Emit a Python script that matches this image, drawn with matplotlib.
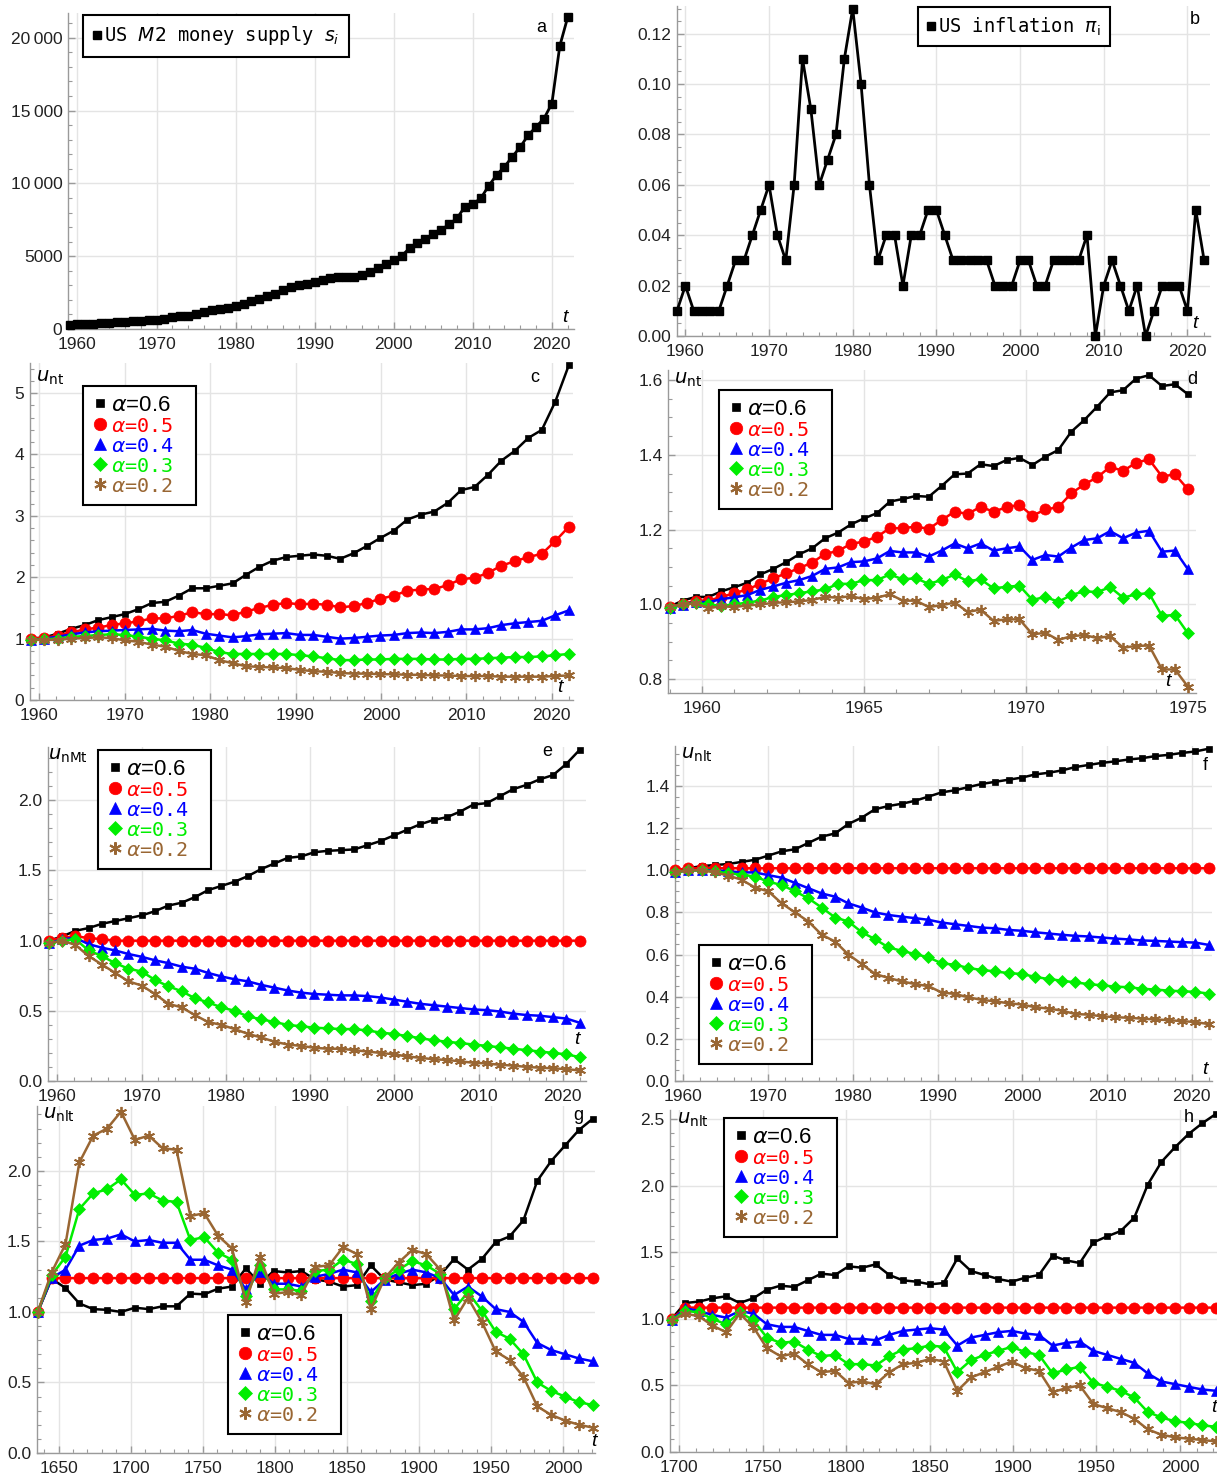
import numpy as np
import matplotlib
matplotlib.use("Agg")
import matplotlib.pyplot as plt
from matplotlib.ticker import MultipleLocator, FuncFormatter
from matplotlib.lines import Line2D

plt.rcParams['font.family'] = ['Liberation Sans', 'DejaVu Sans']
plt.rcParams['mathtext.fontset'] = 'dejavusans'

# ---------------- data ----------------
years_ab = np.arange(1959, 2023)
m2_supply = [300, 310, 330, 360, 390, 420, 460, 480, 520, 560,
             590, 640, 710, 800, 860, 910, 1020, 1150, 1280, 1370,
             1470, 1600, 1730, 1900, 2080, 2240, 2420, 2690, 2880, 2990,
             3100, 3200, 3380, 3490, 3540, 3580, 3600, 3720, 3880, 4180,
             4470, 4750, 5020, 5550, 5890, 6160, 6500, 6800, 7190, 7600,
             8400, 8580, 8970, 9820, 10570, 11140, 11830, 12500, 13300, 13880,
             14450, 15480, 19430, 21400]
inflation = [0.01, 0.02, 0.01, 0.01, 0.01, 0.01, 0.02, 0.03, 0.03, 0.04,
             0.05, 0.06, 0.04, 0.03, 0.06, 0.11, 0.09, 0.06, 0.07, 0.08,
             0.11, 0.13, 0.10, 0.06, 0.03, 0.04, 0.04, 0.02, 0.04, 0.04,
             0.05, 0.05, 0.04, 0.03, 0.03, 0.03, 0.03, 0.03, 0.02, 0.02,
             0.02, 0.03, 0.03, 0.02, 0.02, 0.03, 0.03, 0.03, 0.03, 0.04,
             0.00, 0.02, 0.03, 0.02, 0.01, 0.02, 0.00, 0.01, 0.02, 0.02,
             0.02, 0.01, 0.05, 0.03]

t_c = np.linspace(1959, 2022, 41)
t_d = np.linspace(1959, 1975, 41)
t_e = np.linspace(1959, 2022, 41)
t_f = np.linspace(1959, 2022, 41)
t_g = np.linspace(1635.5, 2020.5, 41)
t_h = np.linspace(1695.5, 2021.5, 41)

alphas = ["0.6", "0.5", "0.4", "0.3", "0.2"]

c_06 = [1.00, 1.02, 1.08, 1.16, 1.22, 1.30, 1.35, 1.40, 1.48, 1.58,
        1.60, 1.70, 1.82, 1.82, 1.86, 1.90, 2.04, 2.17, 2.27, 2.33,
        2.35, 2.37, 2.35, 2.30, 2.39, 2.51, 2.64, 2.76, 2.94, 3.02,
        3.07, 3.21, 3.42, 3.47, 3.67, 3.90, 4.06, 4.27, 4.40, 4.86, 5.45]
c_05 = [1.00, 1.01, 1.05, 1.10, 1.15, 1.18, 1.22, 1.25, 1.28, 1.33,
        1.33, 1.37, 1.43, 1.40, 1.40, 1.38, 1.44, 1.50, 1.55, 1.58,
        1.56, 1.57, 1.55, 1.51, 1.53, 1.58, 1.65, 1.70, 1.78, 1.80,
        1.81, 1.87, 1.97, 1.99, 2.07, 2.19, 2.26, 2.33, 2.38, 2.59, 2.82]
c_04 = [0.97, 1.00, 1.03, 1.07, 1.10, 1.12, 1.13, 1.14, 1.15, 1.16,
        1.13, 1.12, 1.14, 1.08, 1.05, 1.02, 1.04, 1.07, 1.08, 1.09,
        1.06, 1.06, 1.03, 1.00, 1.01, 1.03, 1.05, 1.06, 1.09, 1.10,
        1.09, 1.11, 1.15, 1.15, 1.17, 1.22, 1.25, 1.27, 1.29, 1.38, 1.46]
c_03 = [0.98, 0.99, 1.00, 1.03, 1.04, 1.06, 1.07, 1.06, 1.03, 1.00,
        0.97, 0.92, 0.90, 0.85, 0.78, 0.75, 0.75, 0.75, 0.75, 0.75,
        0.73, 0.71, 0.68, 0.65, 0.65, 0.66, 0.66, 0.67, 0.67, 0.67,
        0.66, 0.66, 0.67, 0.67, 0.68, 0.69, 0.70, 0.70, 0.71, 0.73, 0.75]
c_02 = [0.98, 0.98, 0.98, 1.00, 1.01, 1.02, 1.01, 0.97, 0.95, 0.90,
        0.87, 0.80, 0.75, 0.73, 0.65, 0.60, 0.55, 0.54, 0.53, 0.52,
        0.49, 0.47, 0.46, 0.44, 0.43, 0.43, 0.42, 0.42, 0.41, 0.41,
        0.40, 0.40, 0.39, 0.39, 0.39, 0.38, 0.38, 0.38, 0.38, 0.39, 0.40]

d_06 = [0.994, 1.01, 1.02, 1.02, 1.035, 1.046, 1.058, 1.08, 1.095, 1.113,
        1.134, 1.15, 1.177, 1.192, 1.214, 1.23, 1.244, 1.275, 1.282, 1.29,
        1.288, 1.317, 1.348, 1.35, 1.375, 1.37, 1.386, 1.392, 1.373, 1.395,
        1.413, 1.462, 1.493, 1.529, 1.567, 1.573, 1.604, 1.613, 1.584, 1.589, 1.562]
d_05 = [0.994, 1.0, 1.01, 1.01, 1.02, 1.03, 1.04, 1.055, 1.07, 1.083,
        1.097, 1.112, 1.135, 1.143, 1.162, 1.168, 1.181, 1.204, 1.204, 1.208,
        1.202, 1.226, 1.248, 1.242, 1.261, 1.248, 1.26, 1.266, 1.237, 1.254,
        1.26, 1.297, 1.321, 1.34, 1.368, 1.357, 1.379, 1.388, 1.342, 1.348, 1.308]
d_04 = [0.99, 0.999, 1.007, 1.006, 1.014, 1.019, 1.025, 1.039, 1.048, 1.058,
        1.065, 1.076, 1.095, 1.099, 1.113, 1.115, 1.123, 1.143, 1.139, 1.139,
        1.128, 1.144, 1.163, 1.15, 1.163, 1.144, 1.15, 1.155, 1.119, 1.132,
        1.128, 1.152, 1.172, 1.177, 1.196, 1.177, 1.192, 1.197, 1.141, 1.144, 1.094]
d_03 = [0.99, 1.0, 1.003, 1.0, 0.996, 1.0, 1.005, 1.01, 1.02, 1.025,
        1.03, 1.035, 1.04, 1.055, 1.055, 1.065, 1.065, 1.08, 1.067, 1.07,
        1.055, 1.065, 1.08, 1.062, 1.067, 1.043, 1.047, 1.05, 1.012, 1.02,
        1.007, 1.025, 1.035, 1.033, 1.046, 1.018, 1.027, 1.03, 0.969, 0.972, 0.923]
d_02 = [0.994, 1.0, 1.003, 0.99, 0.995, 0.993, 0.997, 1.0, 1.004, 1.006,
        1.008, 1.012, 1.02, 1.018, 1.022, 1.014, 1.018, 1.027, 1.01, 1.01,
        0.993, 0.998, 1.005, 0.98, 0.986, 0.956, 0.96, 0.96, 0.92, 0.924,
        0.905, 0.915, 0.918, 0.91, 0.915, 0.884, 0.889, 0.89, 0.826, 0.826, 0.78]

e_06 = [1.0, 1.03, 1.07, 1.09, 1.12, 1.14, 1.16, 1.18, 1.21, 1.25,
        1.27, 1.31, 1.36, 1.39, 1.42, 1.46, 1.51, 1.55, 1.59, 1.60,
        1.63, 1.64, 1.645, 1.65, 1.68, 1.71, 1.75, 1.79, 1.83, 1.86,
        1.88, 1.92, 1.97, 1.98, 2.03, 2.08, 2.11, 2.15, 2.18, 2.26, 2.36]
e_05 = [1.0, 1.02, 1.03, 1.02, 1.01, 1.0, 1.0, 1.0, 1.0, 1.0,
        1.0, 1.0, 1.0, 1.0, 1.0, 1.0, 1.0, 1.0, 1.0, 1.0,
        1.0, 1.0, 1.0, 1.0, 1.0, 1.0, 1.0, 1.0, 1.0, 1.0,
        1.0, 1.0, 1.0, 1.0, 1.0, 1.0, 1.0, 1.0, 1.0, 1.0, 1.0]
e_04 = [0.98, 1.01, 1.02, 0.975, 0.95, 0.93, 0.905, 0.885, 0.86, 0.84,
        0.815, 0.80, 0.77, 0.745, 0.725, 0.71, 0.685, 0.665, 0.645, 0.63,
        0.62, 0.615, 0.61, 0.61, 0.605, 0.595, 0.58, 0.565, 0.55, 0.54,
        0.53, 0.52, 0.51, 0.505, 0.495, 0.48, 0.47, 0.465, 0.455, 0.445, 0.415]
e_03 = [0.98, 1.0, 1.01, 0.93, 0.89, 0.84, 0.80, 0.78, 0.72, 0.675,
        0.64, 0.59, 0.56, 0.525, 0.50, 0.46, 0.44, 0.42, 0.40, 0.39,
        0.38, 0.375, 0.37, 0.37, 0.36, 0.345, 0.335, 0.32, 0.305, 0.29,
        0.28, 0.27, 0.26, 0.25, 0.24, 0.23, 0.22, 0.21, 0.20, 0.19, 0.17]
e_02 = [0.98, 1.0, 0.97, 0.89, 0.83, 0.77, 0.71, 0.68, 0.62, 0.55,
        0.525, 0.47, 0.42, 0.40, 0.37, 0.336, 0.31, 0.28, 0.26, 0.25,
        0.237, 0.23, 0.23, 0.22, 0.21, 0.20, 0.19, 0.175, 0.165, 0.155,
        0.15, 0.14, 0.13, 0.125, 0.115, 0.11, 0.10, 0.095, 0.09, 0.085, 0.075]

f_06 = [1.0, 1.01, 1.02, 1.025, 1.03, 1.04, 1.05, 1.07, 1.09, 1.10,
        1.13, 1.16, 1.175, 1.22, 1.25, 1.29, 1.305, 1.316, 1.33, 1.35,
        1.37, 1.38, 1.395, 1.41, 1.42, 1.43, 1.44, 1.455, 1.463, 1.474,
        1.49, 1.50, 1.51, 1.517, 1.526, 1.532, 1.542, 1.548, 1.557, 1.564, 1.577]
f_05 = [1.0, 1.01, 1.01, 1.01, 1.01, 1.01, 1.01, 1.01, 1.01, 1.01,
        1.01, 1.01, 1.01, 1.01, 1.01, 1.01, 1.01, 1.01, 1.01, 1.01,
        1.01, 1.01, 1.01, 1.01, 1.01, 1.01, 1.01, 1.01, 1.01, 1.01,
        1.01, 1.01, 1.01, 1.01, 1.01, 1.01, 1.01, 1.01, 1.01, 1.01, 1.01]
f_04 = [0.99, 1.0, 1.0, 1.0, 0.995, 0.99, 0.99, 0.977, 0.965, 0.94,
        0.915, 0.89, 0.875, 0.843, 0.823, 0.80, 0.788, 0.78, 0.773, 0.765,
        0.752, 0.744, 0.736, 0.728, 0.725, 0.717, 0.713, 0.706, 0.70, 0.694,
        0.689, 0.686, 0.681, 0.676, 0.672, 0.667, 0.665, 0.662, 0.659, 0.657, 0.646]
f_03 = [0.99, 1.0, 1.0, 0.995, 0.985, 0.98, 0.97, 0.946, 0.93, 0.90,
        0.867, 0.823, 0.776, 0.757, 0.706, 0.673, 0.634, 0.618, 0.602, 0.587,
        0.558, 0.552, 0.536, 0.527, 0.52, 0.512, 0.508, 0.494, 0.484, 0.476,
        0.468, 0.46, 0.454, 0.448, 0.445, 0.438, 0.434, 0.429, 0.426, 0.423, 0.415]
f_02 = [0.99, 1.0, 1.0, 0.99, 0.975, 0.955, 0.918, 0.90, 0.843, 0.80,
        0.757, 0.694, 0.662, 0.60, 0.555, 0.508, 0.489, 0.473, 0.46, 0.45,
        0.42, 0.413, 0.397, 0.385, 0.378, 0.369, 0.363, 0.35, 0.344, 0.334,
        0.318, 0.315, 0.307, 0.303, 0.30, 0.296, 0.292, 0.289, 0.284, 0.28, 0.27]

g_06 = [1.0, 1.235, 1.17, 1.06, 1.02, 1.015, 1.0, 1.03, 1.02, 1.04,
        1.04, 1.13, 1.125, 1.165, 1.18, 1.31, 1.20, 1.29, 1.28, 1.29,
        1.23, 1.215, 1.18, 1.19, 1.33, 1.23, 1.21, 1.19, 1.20, 1.26,
        1.375, 1.30, 1.375, 1.495, 1.535, 1.65, 1.93, 2.07, 2.18, 2.29, 2.37]
g_05 = [1.0, 1.24, 1.24, 1.24, 1.24, 1.24, 1.24, 1.24, 1.24, 1.24,
        1.24, 1.24, 1.24, 1.24, 1.24, 1.24, 1.24, 1.24, 1.24, 1.24,
        1.24, 1.24, 1.24, 1.24, 1.24, 1.24, 1.24, 1.24, 1.24, 1.24,
        1.24, 1.24, 1.24, 1.24, 1.24, 1.24, 1.24, 1.24, 1.24, 1.24, 1.24]
g_04 = [1.0, 1.24, 1.30, 1.47, 1.51, 1.52, 1.55, 1.50, 1.51, 1.49,
        1.49, 1.37, 1.37, 1.33, 1.30, 1.16, 1.28, 1.20, 1.20, 1.18,
        1.25, 1.27, 1.30, 1.28, 1.14, 1.23, 1.27, 1.30, 1.28, 1.24,
        1.12, 1.18, 1.11, 1.02, 1.00, 0.93, 0.78, 0.73, 0.70, 0.67, 0.65]
g_03 = [1.0, 1.26, 1.39, 1.73, 1.84, 1.87, 1.94, 1.83, 1.84, 1.79,
        1.78, 1.51, 1.53, 1.42, 1.37, 1.11, 1.33, 1.16, 1.16, 1.15,
        1.29, 1.30, 1.37, 1.34, 1.08, 1.24, 1.30, 1.36, 1.33, 1.27,
        1.02, 1.14, 1.01, 0.86, 0.81, 0.70, 0.50, 0.44, 0.40, 0.36, 0.34]
g_02 = [1.0, 1.28, 1.48, 2.06, 2.25, 2.30, 2.42, 2.22, 2.25, 2.16,
        2.15, 1.68, 1.70, 1.54, 1.45, 1.07, 1.39, 1.13, 1.14, 1.12,
        1.32, 1.33, 1.46, 1.41, 1.02, 1.24, 1.35, 1.44, 1.41, 1.30,
        0.94, 1.10, 0.93, 0.72, 0.66, 0.54, 0.33, 0.27, 0.23, 0.20, 0.18]

h_06 = [1.0, 1.12, 1.13, 1.155, 1.17, 1.12, 1.155, 1.22, 1.25, 1.24,
        1.29, 1.34, 1.33, 1.395, 1.385, 1.41, 1.33, 1.29, 1.28, 1.26,
        1.27, 1.455, 1.36, 1.33, 1.30, 1.28, 1.31, 1.33, 1.475, 1.44,
        1.42, 1.575, 1.62, 1.66, 1.76, 2.01, 2.18, 2.29, 2.39, 2.47, 2.54]
h_05 = [1.0, 1.085, 1.085, 1.085, 1.085, 1.085, 1.085, 1.085, 1.085, 1.085,
        1.085, 1.085, 1.085, 1.085, 1.085, 1.085, 1.085, 1.085, 1.085, 1.085,
        1.085, 1.085, 1.085, 1.085, 1.085, 1.085, 1.085, 1.085, 1.085, 1.085,
        1.085, 1.085, 1.085, 1.085, 1.085, 1.085, 1.085, 1.085, 1.085, 1.085, 1.085]
h_04 = [0.99, 1.08, 1.06, 1.03, 1.01, 1.06, 1.04, 0.96, 0.94, 0.94,
        0.91, 0.88, 0.88, 0.85, 0.85, 0.84, 0.88, 0.91, 0.92, 0.93,
        0.92, 0.80, 0.86, 0.88, 0.90, 0.91, 0.89, 0.88, 0.80, 0.82,
        0.83, 0.76, 0.73, 0.70, 0.67, 0.59, 0.53, 0.51, 0.49, 0.47, 0.46]
h_03 = [0.99, 1.06, 1.05, 1.0, 0.96, 1.05, 0.99, 0.86, 0.82, 0.83,
        0.77, 0.72, 0.73, 0.66, 0.66, 0.65, 0.72, 0.77, 0.78, 0.80,
        0.79, 0.60, 0.69, 0.73, 0.76, 0.79, 0.75, 0.73, 0.59, 0.62,
        0.64, 0.52, 0.49, 0.46, 0.41, 0.30, 0.26, 0.23, 0.22, 0.20, 0.19]
h_02 = [0.99, 1.04, 1.02, 0.95, 0.90, 1.04, 0.94, 0.78, 0.72, 0.74,
        0.66, 0.60, 0.61, 0.52, 0.53, 0.51, 0.60, 0.66, 0.67, 0.70,
        0.68, 0.46, 0.56, 0.60, 0.64, 0.68, 0.63, 0.61, 0.45, 0.48,
        0.50, 0.36, 0.33, 0.30, 0.25, 0.17, 0.13, 0.11, 0.10, 0.09, 0.08]

# ---------------- styling ----------------
W, H = 1217, 1476
fig = plt.figure(figsize=(W / 100, H / 100), dpi=100)

COLORS = ['black', '#ff0000', '#0000ff', '#00ee00', '#996633']
MARKERS = ['s', 'o', '^', 'D', (6, 2, 0)]
MSIZES = [5, 8, 7, 6, 8]
AX_GRAY = '#9a9a9a'


def add_axes(l, r, t, b):
    return fig.add_axes([l / W, 1 - b / H, (r - l) / W, (b - t) / H])


def style(ax, xlim, ylim, xmajor, xminor, ymajor, yminor, yfmt):
    ax.set_xlim(*xlim)
    ax.set_ylim(*ylim)
    ax.xaxis.set_major_locator(MultipleLocator(xmajor))
    ax.xaxis.set_minor_locator(MultipleLocator(xminor))
    ax.yaxis.set_major_locator(MultipleLocator(ymajor))
    ax.yaxis.set_minor_locator(MultipleLocator(yminor))
    ax.yaxis.set_major_formatter(FuncFormatter(yfmt))
    ax.xaxis.set_major_formatter(FuncFormatter(lambda v, p: f"{int(round(v))}"))
    for s in ['top', 'right']:
        ax.spines[s].set_visible(False)
    for s in ['left', 'bottom']:
        ax.spines[s].set_color(AX_GRAY)
        ax.spines[s].set_linewidth(1.0)
    ax.tick_params(which='both', direction='in', color=AX_GRAY,
                   labelsize=12.5, labelcolor='#222222')
    ax.tick_params(axis='y', which='both', pad=4)
    ax.tick_params(axis='x', which='both', pad=5.5)
    ax.tick_params(which='major', length=5, width=1)
    ax.tick_params(which='minor', length=3, width=0.8)
    ax.grid(True, which='major', color='#e4e4e4', lw=1)
    ax.set_axisbelow(True)


def ftext(x, y, s, **kw):
    fig.text(x / W, 1 - y / H, s, **kw)


def multi_panel(ax, t, series, legend_xy):
    for ys, c, m, ms in zip(series, COLORS, MARKERS, MSIZES):
        mew = 1.3 if isinstance(m, tuple) else 0.5
        ax.plot(t, ys, color=c, lw=1.8, marker=m, ms=ms, mew=mew,
                mec=c, mfc=c, clip_on=False, zorder=3)
    handles = [Line2D([], [], ls='none', marker=m, color=c, ms=ms + 1,
                      mew=(1.5 if isinstance(m, tuple) else 0.5))
               for c, m, ms in zip(COLORS, MARKERS, MSIZES)]
    labels = [r'$\alpha$=' + a + '  ' for a in alphas]
    leg = ax.legend(handles, labels, loc='upper left',
                    bbox_to_anchor=(legend_xy[0] / W, 1 - legend_xy[1] / H),
                    bbox_transform=fig.transFigure, borderaxespad=0,
                    frameon=True, fancybox=False, edgecolor='black',
                    handlelength=0.7, handletextpad=0.15, labelspacing=0.02,
                    borderpad=0.4, fontsize=16, framealpha=1)
    leg.get_frame().set_linewidth(1.5)
    for i, (txt, c) in enumerate(zip(leg.get_texts(), COLORS)):
        txt.set_color(c)
        if i > 0:
            txt.set_fontfamily(['DejaVu Sans Mono'])
            txt.set_fontsize(14.5)
    leg.set_zorder(10)


fmt1 = lambda v, p: f"{v:.1f}"
fmt2 = lambda v, p: f"{v:.2f}"
fmt0 = lambda v, p: f"{int(round(v))}"


def fmt_big(v, p):
    v = int(round(v))
    if v >= 10000:
        return f"{v // 1000}\u2009{v % 1000:03d}"
    return str(v)


# ---- panel a ----
ax = add_axes(68, 574, 13, 329)
style(ax, (1958.8, 2022.8), (0, 21700), 10, 2, 5000, 1000, fmt_big)
ax.plot(years_ab, m2_supply, color='black', lw=2, marker='s', ms=5.5,
        clip_on=False, zorder=3)
leg = ax.legend([Line2D([], [], ls='none', marker='s', color='black', ms=6)],
                [r'US $M2$ money supply $s_i$ '], loc='upper left',
                bbox_to_anchor=(83 / W, 1 - 15 / H), bbox_transform=fig.transFigure,
                borderaxespad=0, fancybox=False, edgecolor='black', framealpha=1,
                handlelength=0.5, handletextpad=0.1, borderpad=0.5,
                prop={'family': 'DejaVu Sans Mono', 'size': 13.5})
leg.get_frame().set_linewidth(1.5)
ftext(541, 27, 'a', fontsize=13, ha='center', va='center')
ftext(565, 317, 't', fontsize=14, style='italic', ha='center', va='center')

# ---- panel b ----
ax = add_axes(677, 1210, 6, 336)
style(ax, (1959, 2022.7), (0, 0.131), 10, 2, 0.02, 0.005, fmt2)
ax.plot(years_ab, inflation, color='black', lw=2, marker='s', ms=5.5,
        clip_on=False, zorder=3)
leg = ax.legend([Line2D([], [], ls='none', marker='s', color='black', ms=6)],
                [r'US inflation $\pi_{\rm i}$ '], loc='upper left',
                bbox_to_anchor=(918 / W, 1 - 7 / H), bbox_transform=fig.transFigure,
                borderaxespad=0, fancybox=False, edgecolor='black', framealpha=1,
                handlelength=0.5, handletextpad=0.1, borderpad=0.45,
                prop={'family': 'DejaVu Sans Mono', 'size': 13.5})
leg.get_frame().set_linewidth(1.5)
ftext(1195, 19, 'b', fontsize=13, ha='center', va='center')
ftext(1195, 323, 't', fontsize=14, style='italic', ha='center', va='center')

# ---- panel c ----
ax = add_axes(30, 573, 363, 700)
style(ax, (1958.9, 2022.5), (0, 5.49), 10, 2, 1, 0.2, fmt0)
multi_panel(ax, t_c, [c_06, c_05, c_04, c_03, c_02], (83, 386))
ftext(36, 378, r'$u_{\mathrm{nt}}$', fontsize=14, ha='left', va='center')
ftext(535, 377, 'c', fontsize=13, ha='center', va='center')
ftext(560, 688, 't', fontsize=14, style='italic', ha='center', va='center')

# ---- panel d ----
ax = add_axes(668, 1196, 370, 693)
style(ax, (1958.95, 1975.25), (0.763, 1.627), 5, 1, 0.2, 0.05, fmt1)
multi_panel(ax, t_d, [d_06, d_05, d_04, d_03, d_02], (719, 390))
ftext(674, 380, r'$u_{\mathrm{nt}}$', fontsize=14, ha='left', va='center')
ftext(1192, 380, 'd', fontsize=13, ha='center', va='center')
ftext(1168, 682, 't', fontsize=14, style='italic', ha='center', va='center')

# ---- panel e ----
ax = add_axes(48, 586, 747, 1081)
style(ax, (1958.9, 2022.75), (0, 2.38), 10, 2, 0.5, 0.1, fmt1)
multi_panel(ax, t_e, [e_06, e_05, e_04, e_03, e_02], (98, 750))
ftext(48, 756, r'$u_{\mathrm{nMt}}$', fontsize=14, ha='left', va='center')
ftext(547, 752, 'e', fontsize=13, ha='center', va='center')
ftext(577, 1040, 't', fontsize=14, style='italic', ha='center', va='center')

# ---- panel f ----
ax = add_axes(675, 1212, 746, 1081)
style(ax, (1959, 2022.4), (0, 1.59), 10, 2, 0.2, 0.05, fmt1)
multi_panel(ax, t_f, [f_06, f_05, f_04, f_03, f_02], (699, 945))
ftext(681, 755, r'$u_{\mathrm{nlt}}$', fontsize=14, ha='left', va='center')
ftext(1205, 765, 'f', fontsize=13, ha='center', va='center')
ftext(1205, 1069, 't', fontsize=14, style='italic', ha='center', va='center')

# ---- panel g ----
ax = add_axes(37, 595, 1106, 1453)
style(ax, (1635, 2022), (0, 2.46), 50, 10, 0.5, 0.1, fmt1)
multi_panel(ax, t_g, [g_06, g_05, g_04, g_03, g_02], (228, 1315))
ftext(43, 1115, r'$u_{\mathrm{nlt}}$', fontsize=14, ha='left', va='center')
ftext(578, 1115, 'g', fontsize=13, ha='center', va='center')
ftext(594, 1441, 't', fontsize=14, style='italic', ha='center', va='center')

# ---- panel h ----
ax = add_axes(670, 1217, 1110, 1452)
style(ax, (1694.5, 2022.2), (0, 2.57), 50, 10, 0.5, 0.1, fmt1)
multi_panel(ax, t_h, [h_06, h_05, h_04, h_03, h_02], (724, 1118))
ftext(677, 1120, r'$u_{\mathrm{nlt}}$', fontsize=14, ha='left', va='center')
ftext(1189, 1118, 'h', fontsize=13, ha='center', va='center')
ftext(1214, 1408, 't', fontsize=14, style='italic', ha='center', va='center')

fig.savefig('out.png', dpi=100)
